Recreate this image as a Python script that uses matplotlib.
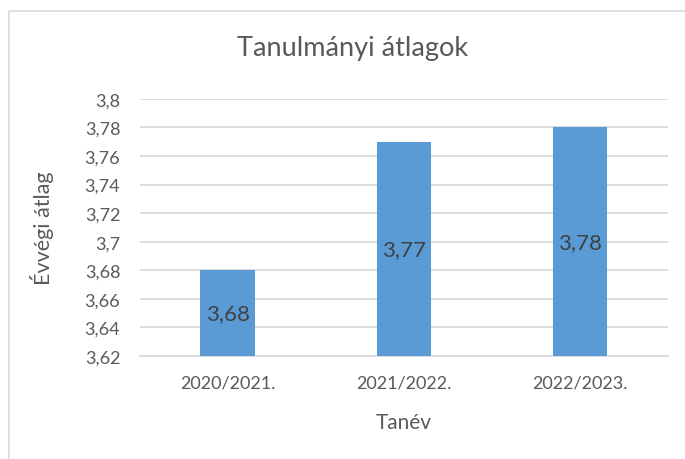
import matplotlib
matplotlib.use("Agg")
import matplotlib.pyplot as plt
from matplotlib.patches import Rectangle

# Data
categories = ["2020/2021.", "2021/2022.", "2022/2023."]
values = [3.68, 3.77, 3.78]
y_ticks = [3.62, 3.64, 3.66, 3.68, 3.70, 3.72, 3.74, 3.76, 3.78, 3.80]


def hu_num(v):
    # Excel general format with comma decimal separator
    s = f"{v:.2f}".rstrip("0").rstrip(".")
    return s.replace(".", ",")


plt.rcParams["font.family"] = ["Lato", "DejaVu Sans"]
text_color = "#595959"
grid_color = "#d9d9d9"

fig = plt.figure(figsize=(6.85, 4.6), dpi=100)
ax = fig.add_axes([0.204, 0.224, 0.771, 0.559])

# Chart border
fig.patches.append(
    Rectangle((9 / 685, -0.1), 1.2, 0.1 + (1 - 12 / 460), transform=fig.transFigure,
              fill=False, edgecolor=grid_color, linewidth=1.2)
)

x = range(len(categories))
bars = ax.bar(x, values, width=0.31, color="#5b9bd5", zorder=3)

for i, v in zip(x, values):
    ax.text(i, (v + y_ticks[0]) / 2, hu_num(v), ha="center", va="center",
            fontsize=16, color="#404040", zorder=4)

ax.set_ylim(y_ticks[0], y_ticks[-1])
ax.set_yticks(y_ticks)
ax.set_yticklabels([hu_num(t) for t in y_ticks])
ax.set_xlim(-0.5, len(categories) - 0.5)
ax.set_xticks(list(x))
ax.set_xticklabels(categories)

ax.grid(axis="y", color=grid_color, linewidth=1.3, zorder=0)
ax.set_axisbelow(True)
for side in ["left", "right", "top"]:
    ax.spines[side].set_visible(False)
ax.spines["bottom"].set_color(grid_color)
ax.spines["bottom"].set_linewidth(1.3)
ax.tick_params(axis="both", length=0, labelsize=13, colors=text_color)
ax.tick_params(axis="x", pad=13)
ax.tick_params(axis="y", pad=14)

ax.set_xlabel("Tanév", fontsize=15, color=text_color, labelpad=16)
ax.set_ylabel("Évvégi átlag", fontsize=15.5, color=text_color, labelpad=22)
fig.text(0.514, 0.895, "Tanulmányi átlagok", ha="center", va="center",
         fontsize=19.5, color=text_color)

fig.savefig("out.png", dpi=100)
